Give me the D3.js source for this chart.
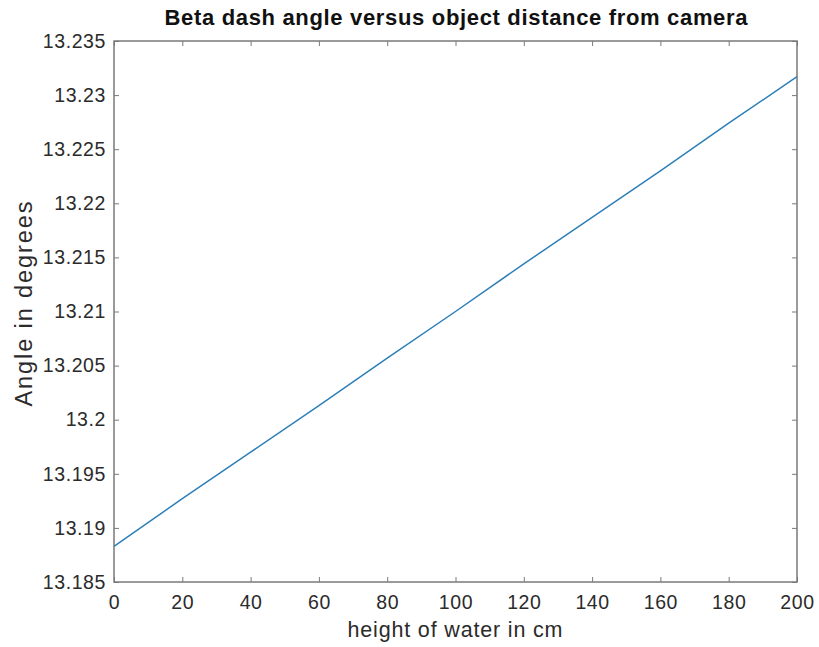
<!DOCTYPE html>
<html>
<head>
<meta charset="utf-8">
<script src="https://cdn.jsdelivr.net/npm/d3@7"></script>
<style>
  body { margin: 0; background: #fff; }
  svg { display: block; font-family: "Liberation Sans", Arial, sans-serif; }
</style>
</head>
<body>
<svg id="chart" width="819" height="647"></svg>
<script>
const heights = [0, 20, 40, 60, 80, 100, 120, 140, 160, 180, 200];
const angles = [13.1883, 13.1927, 13.1970, 13.2013, 13.2057, 13.2100, 13.2144, 13.2187, 13.2230, 13.2274, 13.2317];
const xTicks = [0, 20, 40, 60, 80, 100, 120, 140, 160, 180, 200];
const yTicks = [13.185, 13.19, 13.195, 13.2, 13.205, 13.21, 13.215, 13.22, 13.225, 13.23, 13.235];

const margin = { top: 41, right: 22, bottom: 65, left: 114 };
const width = 819 - margin.left - margin.right;
const height = 647 - margin.top - margin.bottom;

const svg = d3.select("#chart");
const chartArea = svg.append("g")
    .attr("transform", `translate(${margin.left},${margin.top})`);

const xScale = d3.scaleLinear().domain([0, 200]).range([0, width]);
const yScale = d3.scaleLinear().domain([13.185, 13.235]).range([height, 0]);

const axisColour = "#7a7a7a";
const textColour = "#2b2b2b";
const tickLen = 5;

const styleAxis = (g, showLabels) => {
    g.select(".domain").remove();
    g.selectAll("line").attr("stroke", axisColour);
    g.selectAll("text")
        .attr("fill", textColour)
        .attr("font-size", 19.5)
        .attr("letter-spacing", 0.6)
        .style("display", showLabels ? null : "none");
};

chartArea.append("g")
    .attr("transform", `translate(0,${height})`)
    .call(d3.axisBottom(xScale).tickValues(xTicks).tickSize(-tickLen).tickPadding(13).tickFormat(d3.format("d")))
    .call(g => styleAxis(g, true));

chartArea.append("g")
    .call(d3.axisTop(xScale).tickValues(xTicks).tickSize(-tickLen))
    .call(g => styleAxis(g, false));

chartArea.append("g")
    .call(d3.axisLeft(yScale).tickValues(yTicks).tickSize(-tickLen).tickPadding(8).tickFormat(d => String(+d.toFixed(3))))
    .call(g => styleAxis(g, true));

chartArea.append("g")
    .attr("transform", `translate(${width},0)`)
    .call(d3.axisRight(yScale).tickValues(yTicks).tickSize(-tickLen))
    .call(g => styleAxis(g, false));

chartArea.append("rect")
    .attr("width", width)
    .attr("height", height)
    .attr("fill", "none")
    .attr("stroke", axisColour)
    .attr("stroke-width", 1.5);

chartArea.append("path")
    .datum(heights.map((h, i) => [h, angles[i]]))
    .attr("fill", "none")
    .attr("stroke", "#2c7fb8")
    .attr("stroke-width", 1.5)
    .attr("d", d3.line().x(d => xScale(d[0])).y(d => yScale(d[1])));

svg.append("text")
    .attr("x", 456)
    .attr("y", 25)
    .attr("text-anchor", "middle")
    .attr("font-size", 22)
    .attr("font-weight", "bold")
    .attr("fill", "#111")
    .attr("textLength", 583)
    .attr("lengthAdjust", "spacing")
    .text("Beta dash angle versus object distance from camera");

svg.append("text")
    .attr("x", 455)
    .attr("y", 637)
    .attr("text-anchor", "middle")
    .attr("font-size", 21.5)
    .attr("fill", textColour)
    .attr("textLength", 215)
    .attr("lengthAdjust", "spacing")
    .text("height of water in cm");

svg.append("text")
    .attr("transform", `translate(32,304) rotate(-90)`)
    .attr("text-anchor", "middle")
    .attr("font-size", 23.5)
    .attr("fill", textColour)
    .attr("textLength", 205)
    .attr("lengthAdjust", "spacing")
    .text("Angle in degrees");
</script>
</body>
</html>
